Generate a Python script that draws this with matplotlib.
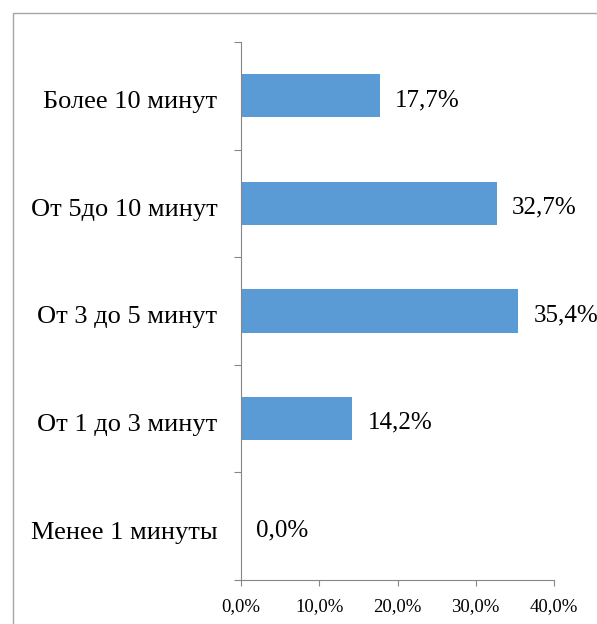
import numpy as np
import matplotlib.pyplot as plt
import matplotlib.transforms as mtransforms
from matplotlib.patches import Rectangle
from matplotlib.ticker import FixedLocator, FuncFormatter

plt.rcParams['font.family'] = ['Liberation Serif', 'DejaVu Serif']

## Data (bottom to top)
categories = ["Менее 1 минуты", "От 1 до 3 минут", "От 3 до 5 минут", "От 5до 10 минут", "Более 10 минут"]
values = [0.0, 14.2, 35.4, 32.7, 17.7]
xticks = [0, 10, 20, 30, 40]

bar_color = "#5B9BD5"
axis_color = "#868686"

fig = plt.figure(figsize=(5.97, 6.24), dpi=100)
ax = fig.add_axes([241/597, 1-580/624, (554-241)/597, (580-42)/624])

y = np.arange(len(categories))
ax.barh(y, values, height=0.4, color=bar_color)

# data labels
for yi, v in zip(y, values):
    ax.annotate(f"{v:.1f}%".replace(".", ","), xy=(v, yi), xytext=(11, -3),
                textcoords="offset points", va="center", ha="left", fontsize=18)

ax.set_xlim(0, 40)
ax.set_ylim(-0.5, len(categories) - 0.5)

ax.set_xticks(xticks)
ax.xaxis.set_major_formatter(FuncFormatter(lambda v, p: f"{v:.1f}%".replace(".", ",")))
ax.tick_params(axis="x", colors=axis_color, labelcolor="black", labelsize=13.5,
               length=4, width=0.8, pad=9)

# y: ticks at band boundaries, labels at centres
ax.yaxis.set_major_locator(FixedLocator(np.arange(-0.5, len(categories), 1.0)))
ax.set_yticklabels([])
ax.yaxis.set_minor_locator(FixedLocator(y))
ax.set_yticklabels(categories, minor=True)
ax.tick_params(axis="y", which="major", colors=axis_color, length=5, width=0.8)
ax.tick_params(axis="y", which="minor", length=0, labelsize=19, pad=17, labelcolor="black")
shift = mtransforms.ScaledTranslation(0, -4/100, fig.dpi_scale_trans)
for lab in ax.get_yticklabels(minor=True):
    lab.set_transform(lab.get_transform() + shift)

for s in ["top", "right"]:
    ax.spines[s].set_visible(False)
for s in ["left", "bottom"]:
    ax.spines[s].set_color(axis_color)
    ax.spines[s].set_linewidth(0.8)

# outer chart border
fig.patches.append(Rectangle((13/597, -0.1), 1.0, 1.1 - 13/624, transform=fig.transFigure,
                             fill=False, edgecolor="#A6A6A6", linewidth=1.0))

fig.savefig("out.png", dpi=100)
